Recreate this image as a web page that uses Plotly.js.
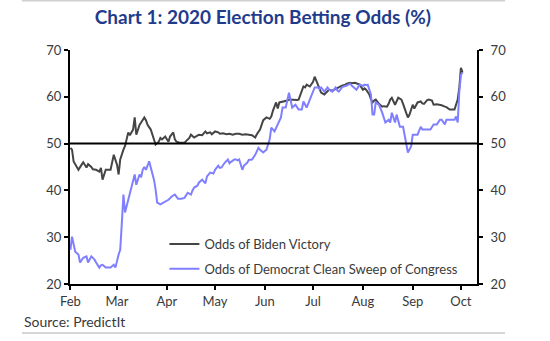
<!DOCTYPE html>
<html>
<head>
<meta charset="utf-8">
<script src="https://cdn.plot.ly/plotly-3.0.1.min.js"></script>
<style>
  html, body { margin: 0; padding: 0; background: #fff; }
  #chart { width: 550px; height: 341px; }
</style>
</head>
<body>
<div id="chart"></div>
<script>
// ---- Data ----
const bidenDates = [
  '2020-02-01','2020-02-02','2020-02-03','2020-02-04','2020-02-06','2020-02-08','2020-02-09','2020-02-11','2020-02-12','2020-02-14',
  '2020-02-15','2020-02-17','2020-02-19','2020-02-20','2020-02-21','2020-02-23','2020-02-25','2020-02-26','2020-02-28','2020-02-29',
  '2020-03-01','2020-03-02','2020-03-03','2020-03-05','2020-03-06','2020-03-08','2020-03-09','2020-03-11','2020-03-12','2020-03-13',
  '2020-03-15','2020-03-16','2020-03-18','2020-03-19','2020-03-20','2020-03-22','2020-03-23','2020-03-25','2020-03-27','2020-03-28',
  '2020-03-29','2020-03-31','2020-04-02','2020-04-03','2020-04-05','2020-04-06','2020-04-07','2020-04-09','2020-04-11','2020-04-12',
  '2020-04-14','2020-04-15','2020-04-16','2020-04-18','2020-04-20','2020-04-21','2020-04-23','2020-04-25','2020-04-26','2020-04-28',
  '2020-04-29','2020-05-01','2020-05-03','2020-05-04','2020-05-06','2020-05-08','2020-05-10','2020-05-12','2020-05-14','2020-05-16',
  '2020-05-18','2020-05-20','2020-05-22','2020-05-24','2020-05-26','2020-05-27','2020-05-29','2020-05-30','2020-05-31','2020-06-02',
  '2020-06-04','2020-06-05','2020-06-06','2020-06-08','2020-06-09','2020-06-10','2020-06-12','2020-06-13','2020-06-15','2020-06-16',
  '2020-06-18','2020-06-19','2020-06-21','2020-06-22','2020-06-24','2020-06-25','2020-06-26','2020-06-27','2020-06-29','2020-07-01',
  '2020-07-02','2020-07-03','2020-07-04','2020-07-06','2020-07-07','2020-07-08','2020-07-10','2020-07-11','2020-07-13','2020-07-14',
  '2020-07-16','2020-07-17','2020-07-19','2020-07-21','2020-07-22','2020-07-24','2020-07-25','2020-07-27','2020-07-29','2020-07-30',
  '2020-08-01','2020-08-02','2020-08-03','2020-08-05','2020-08-06','2020-08-07','2020-08-08','2020-08-09','2020-08-11','2020-08-13',
  '2020-08-14','2020-08-16','2020-08-17','2020-08-18','2020-08-19','2020-08-21','2020-08-23','2020-08-25','2020-08-26','2020-08-27',
  '2020-08-28','2020-08-29','2020-08-30','2020-09-01','2020-09-02','2020-09-04','2020-09-06','2020-09-07','2020-09-08','2020-09-10',
  '2020-09-11','2020-09-13','2020-09-14','2020-09-16','2020-09-18','2020-09-19','2020-09-21','2020-09-22','2020-09-24','2020-09-26',
  '2020-09-27','2020-09-29','2020-09-30','2020-10-01','2020-10-02'
];
const bidenOdds = [
  49.1,48.7,46.2,45.5,44.4,45.5,46.0,44.9,45.6,45.0,
  44.5,44.4,44.0,44.8,42.3,44.4,44.3,44.4,47.6,46.5,
  45.5,43.4,46.6,48.7,49.5,52.4,51.8,53.0,55.6,51.9,
  54.0,54.5,55.6,55.0,54.0,53.0,51.9,49.8,50.4,51.2,
  50.9,51.5,50.4,51.5,52.4,50.9,50.4,50.2,50.2,50.2,
  50.9,51.2,51.9,51.3,51.7,51.9,51.8,52.6,52.2,52.4,
  52.0,52.6,52.4,52.1,52.2,52.0,52.1,51.9,52.1,52.1,
  51.9,52.0,51.9,51.8,51.3,52.0,53.0,54.3,55.0,55.6,
  55.3,55.8,57.0,58.8,57.5,58.8,58.9,59.0,59.2,59.4,
  59.3,59.4,59.3,59.4,61.0,62.2,62.0,62.6,62.2,63.2,
  64.3,63.5,62.6,60.9,60.7,60.5,61.2,61.5,61.3,61.5,
  61.8,62.0,62.4,62.6,62.8,63.0,62.9,63.0,62.8,62.6,
  61.5,61.8,61.5,60.5,59.5,58.8,59.2,59.4,58.5,57.9,
  58.0,57.9,58.5,59.4,59.8,58.3,59.8,59.4,58.5,57.3,
  56.5,55.6,56.2,58.3,57.5,58.8,59.0,58.6,58.5,59.3,
  59.4,59.2,58.3,58.4,58.3,58.2,57.9,57.8,57.3,57.4,
  57.3,59.4,62.0,66.2,65.2
];

const sweepDates = [
  '2020-02-01','2020-02-02','2020-02-04','2020-02-06','2020-02-07','2020-02-09','2020-02-11','2020-02-12','2020-02-14','2020-02-16',
  '2020-02-17','2020-02-19','2020-02-20','2020-02-21','2020-02-23','2020-02-25','2020-02-26','2020-02-28','2020-02-29','2020-03-02',
  '2020-03-03','2020-03-04','2020-03-05','2020-03-06','2020-03-08','2020-03-10','2020-03-11','2020-03-12','2020-03-13','2020-03-15',
  '2020-03-16','2020-03-17','2020-03-18','2020-03-19','2020-03-21','2020-03-22','2020-03-24','2020-03-25','2020-03-26','2020-03-28',
  '2020-03-30','2020-03-31','2020-04-02','2020-04-03','2020-04-04','2020-04-06','2020-04-08','2020-04-10','2020-04-12','2020-04-14',
  '2020-04-16','2020-04-17','2020-04-18','2020-04-20','2020-04-21','2020-04-23','2020-04-25','2020-04-26','2020-04-28','2020-04-30',
  '2020-05-01','2020-05-03','2020-05-04','2020-05-05','2020-05-07','2020-05-09','2020-05-10','2020-05-11','2020-05-13','2020-05-14',
  '2020-05-15','2020-05-16','2020-05-18','2020-05-19','2020-05-21','2020-05-22','2020-05-24','2020-05-26','2020-05-28','2020-05-29',
  '2020-05-31','2020-06-01','2020-06-02','2020-06-04','2020-06-05','2020-06-07','2020-06-09','2020-06-11','2020-06-12','2020-06-14',
  '2020-06-16','2020-06-17','2020-06-18','2020-06-20','2020-06-22','2020-06-24','2020-06-25','2020-06-27','2020-06-29','2020-07-01',
  '2020-07-02','2020-07-04','2020-07-05','2020-07-06','2020-07-08','2020-07-10','2020-07-11','2020-07-13','2020-07-15','2020-07-16',
  '2020-07-17','2020-07-19','2020-07-20','2020-07-22','2020-07-24','2020-07-25','2020-07-27','2020-07-28','2020-07-30','2020-08-01',
  '2020-08-02','2020-08-03','2020-08-04','2020-08-06','2020-08-07','2020-08-08','2020-08-09','2020-08-11','2020-08-13','2020-08-15',
  '2020-08-17','2020-08-18','2020-08-19','2020-08-21','2020-08-22','2020-08-23','2020-08-24','2020-08-26','2020-08-27','2020-08-28',
  '2020-08-29','2020-08-31','2020-09-01','2020-09-03','2020-09-04','2020-09-06','2020-09-07','2020-09-09','2020-09-11','2020-09-12',
  '2020-09-14','2020-09-16','2020-09-18','2020-09-19','2020-09-21','2020-09-22','2020-09-25','2020-09-27','2020-09-28','2020-09-29',
  '2020-09-30','2020-10-01','2020-10-02'
];
const sweepOdds = [
  27.3,30.1,26.9,26.3,24.6,25.6,25.9,24.6,25.9,25.2,
  24.6,23.5,24.0,24.1,23.5,23.6,23.5,24.1,23.5,26.3,
  27.3,33.0,39.1,35.3,38.0,41.2,42.3,43.4,41.2,43.4,
  42.8,44.4,45.0,44.4,46.2,44.9,42.3,40.2,37.4,37.0,
  37.4,37.5,38.0,38.3,38.7,39.1,38.2,38.2,38.4,39.5,
  39.1,40.0,40.6,41.0,41.7,42.3,41.5,43.0,43.8,43.6,
  44.4,45.3,44.8,44.9,45.9,46.6,45.8,46.1,46.6,46.6,
  46.4,46.6,44.4,45.3,45.9,46.5,46.6,47.6,49.1,48.7,
  48.1,48.4,48.7,50.9,53.4,52.6,54.0,55.6,57.7,57.7,
  60.9,59.4,57.7,58.3,57.3,57.3,59.0,57.7,59.4,61.5,
  62.0,62.0,61.7,62.0,61.1,62.0,61.5,61.1,62.0,61.4,
  61.1,62.0,62.2,62.4,62.8,62.4,61.9,61.5,62.6,62.3,
  62.6,62.5,62.6,60.5,56.2,56.2,58.8,58.3,56.6,54.5,
  55.1,54.5,56.6,54.5,56.2,54.5,53.6,53.6,51.5,49.4,
  48.1,49.4,51.9,51.9,51.9,53.6,53.0,53.0,53.1,53.0,
  54.1,54.1,55.1,55.1,54.1,55.1,55.1,55.1,55.8,54.5,
  61.1,64.7,65.2
];

const monthTicks = ['2020-02-01','2020-03-01','2020-04-01','2020-05-01','2020-06-01','2020-07-01','2020-08-01','2020-09-01','2020-10-01'];
const monthLabels = ['Feb','Mar','Apr','May','Jun','Jul','Aug','Sep','Oct'];
const yTicks = [20, 30, 40, 50, 60, 70];
const seriesNames = ['Odds of Biden Victory', 'Odds of Democrat Clean Sweep of Congress'];
const threshold = 50;

// ---- Chart ----
const FONT = 'Lato, "Open Sans", sans-serif';
const TXT = '#3a3a3a';

const traces = [
  {
    x: bidenDates, y: bidenOdds, type: 'scatter', mode: 'lines',
    name: seriesNames[0], legendgroup: 'a',
    line: { color: '#454545', width: 2 }, yaxis: 'y'
  },
  {
    x: sweepDates, y: sweepOdds, type: 'scatter', mode: 'lines',
    name: seriesNames[1], legendgroup: 'b',
    line: { color: '#7f7fff', width: 2 }, yaxis: 'y2'
  }
];

const yAxisCommon = {
  range: [20, 70], tickvals: yTicks, ticktext: yTicks.map(String),
  showgrid: false, zeroline: false, showline: true, linecolor: '#000', linewidth: 2,
  ticks: 'outside', ticklen: 4, tickwidth: 2, tickcolor: '#000',
  tickfont: { family: FONT, size: 13, color: TXT, weight: 'normal' }, fixedrange: true
};

const layout = {
  width: 550, height: 341,
  margin: { l: 70, r: 73, t: 50, b: 57 },
  paper_bgcolor: '#fff', plot_bgcolor: '#fff',
  font: { family: FONT, color: TXT },
  title: {
    text: 'Chart 1: 2020 Election Betting Odds (%)',
    font: { family: FONT, size: 19, color: '#1f3c8c', weight: 'bold' },
    x: 0.478, xref: 'container', xanchor: 'center', y: 0.95, yref: 'container', yanchor: 'middle'
  },
  xaxis: {
    type: 'date', range: ['2020-01-31 18:00', '2020-10-11'],
    tickvals: monthTicks, ticktext: monthLabels,
    showgrid: false, zeroline: false, showline: true, linecolor: '#000', linewidth: 2,
    ticks: 'outside', ticklen: 4, tickwidth: 2, tickcolor: '#000',
    tickfont: { family: FONT, size: 13, color: TXT, weight: 'normal' }, fixedrange: true
  },
  yaxis: Object.assign({ side: 'left' }, yAxisCommon),
  yaxis2: Object.assign({ side: 'right', overlaying: 'y', ticklabelstandoff: 5 }, yAxisCommon),
  showlegend: true,
  legend: {
    x: 0.232, y: 0.235, xanchor: 'left', yanchor: 'top',
    bgcolor: 'rgba(255,255,255,0)', borderwidth: 0,
    font: { family: FONT, size: 13, color: TXT, weight: 'normal' },
    traceorder: 'grouped', tracegroupgap: 5
  },
  shapes: [
    { type: 'line', xref: 'paper', yref: 'y', x0: 0, x1: 1, y0: threshold, y1: threshold,
      line: { color: '#000', width: 2 } },
    { type: 'line', xref: 'paper', yref: 'paper', x0: -0.118, x1: 1.069, y0: 1.21, y1: 1.21,
      line: { color: '#d0d0d0', width: 1.5 } },
    { type: 'line', xref: 'paper', yref: 'paper', x0: -0.118, x1: 1.069, y0: -0.209, y1: -0.209,
      line: { color: '#c8c8c8', width: 1.5 } }
  ],
  annotations: [
    { text: 'Source: PredictIt', xref: 'paper', yref: 'paper', x: -0.118, y: -0.162,
      xanchor: 'left', yanchor: 'middle', showarrow: false,
      font: { family: FONT, size: 14, color: TXT, weight: 'normal' } }
  ]
};

Plotly.newPlot('chart', traces, layout, { displayModeBar: false, staticPlot: true });
</script>
</body>
</html>
